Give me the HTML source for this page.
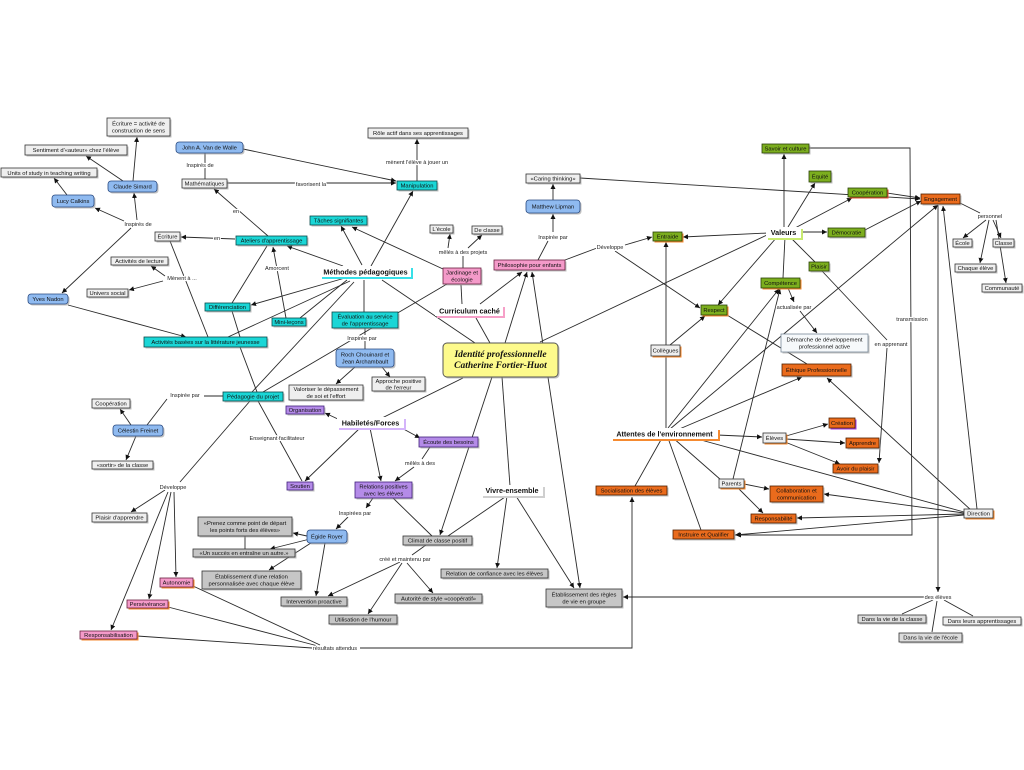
<!DOCTYPE html>
<html><head><meta charset="utf-8"><style>
html,body{margin:0;padding:0;background:#fff;width:1024px;height:770px;overflow:hidden}
svg{display:block}
text{font-family:"Liberation Sans",sans-serif;fill:#111;text-anchor:middle}
.t{font-size:5.8px}
.l{font-size:5.6px;fill:#222;stroke:#fff;stroke-width:2.2px;paint-order:stroke;stroke-linejoin:round}
.h{font-size:7.2px;font-weight:bold}
.ln line,.ln polyline{stroke:#2a2a2a;stroke-width:.9;fill:none}
.w{fill:#efefef;stroke:#333;stroke-width:.8}
.g{fill:#c6c6c6;stroke:#333;stroke-width:.8}
.b{fill:#8fbaf0;stroke:#2a4a80;stroke-width:.8}
.c{fill:#1ad6d6;stroke:#0a4a4a;stroke-width:.8}
.p{fill:#f49ac9;stroke:#6a2040;stroke-width:.8}
.u{fill:#b48be8;stroke:#40207a;stroke-width:.8}
.gr{fill:#7cae1e;stroke:#2a4008;stroke-width:.8}
.o{fill:#ea6b1c;stroke:#502000;stroke-width:.8}
.sh{fill:#999;opacity:.6}
.so{fill:#f58a30}
</style></head><body>
<svg width="1024" height="770" viewBox="0 0 1024 770" xmlns="http://www.w3.org/2000/svg">
<defs>
<marker id="a" viewBox="0 0 10 10" refX="10" refY="5" markerWidth="5" markerHeight="5" markerUnits="userSpaceOnUse" orient="auto"><path d="M0,0 L10,5 L0,10z" fill="#111"/></marker>
</defs>
<g class="ln">
<line x1="133" y1="181" x2="137" y2="137" marker-end="url(#a)"/>
<line x1="123" y1="181" x2="86" y2="156" marker-end="url(#a)"/>
<line x1="67" y1="195" x2="54" y2="178" marker-end="url(#a)"/>
<line x1="124" y1="221" x2="95" y2="208" marker-end="url(#a)"/>
<line x1="137" y1="220" x2="134" y2="193" marker-end="url(#a)"/>
<line x1="131" y1="228" x2="62" y2="293" marker-end="url(#a)"/>
<line x1="235" y1="239" x2="181" y2="237" marker-end="url(#a)"/>
<line x1="170" y1="241" x2="208" y2="337"/>
<line x1="68" y1="305" x2="186" y2="337" marker-end="url(#a)"/>
<line x1="165" y1="276" x2="151" y2="266" marker-end="url(#a)"/>
<line x1="163" y1="281" x2="129" y2="290" marker-end="url(#a)"/>
<line x1="205" y1="153" x2="205" y2="179"/>
<line x1="268" y1="236" x2="214" y2="189" marker-end="url(#a)"/>
<line x1="227" y1="183" x2="396" y2="183" marker-end="url(#a)"/>
<line x1="243" y1="149" x2="396" y2="181" marker-end="url(#a)"/>
<line x1="417" y1="181" x2="417" y2="139" marker-end="url(#a)"/>
<line x1="371" y1="266" x2="413" y2="191" marker-end="url(#a)"/>
<line x1="362" y1="265" x2="341" y2="226" marker-end="url(#a)"/>
<line x1="343" y1="266" x2="287" y2="246" marker-end="url(#a)"/>
<line x1="345" y1="278" x2="251" y2="305" marker-end="url(#a)"/>
<line x1="347" y1="280" x2="300" y2="318"/>
<line x1="350" y1="281" x2="228" y2="337"/>
<line x1="354" y1="282" x2="252" y2="392"/>
<line x1="364" y1="280" x2="364" y2="312"/>
<line x1="382" y1="280" x2="475" y2="343"/>
<line x1="286" y1="318" x2="273" y2="247" marker-end="url(#a)"/>
<line x1="232" y1="303" x2="267" y2="246"/>
<polyline points="232,311 240,337 240,347 257,392 258,401 302,481"/>
<line x1="447" y1="284" x2="263" y2="392"/>
<line x1="443" y1="269" x2="352" y2="227" marker-end="url(#a)"/>
<line x1="463" y1="268" x2="463" y2="256"/>
<line x1="448" y1="248" x2="450" y2="234" marker-end="url(#a)"/>
<line x1="468" y1="248" x2="482" y2="235" marker-end="url(#a)"/>
<line x1="462" y1="304" x2="461" y2="285"/>
<line x1="480" y1="304" x2="522" y2="272" marker-end="url(#a)"/>
<line x1="490" y1="343" x2="476" y2="318"/>
<line x1="505" y1="343" x2="527" y2="272" marker-end="url(#a)"/>
<line x1="556" y1="430" x2="532" y2="272" marker-end="url(#a)"/>
<line x1="556" y1="430" x2="580" y2="588" marker-end="url(#a)"/>
<line x1="538" y1="260" x2="548" y2="241"/>
<line x1="553" y1="232" x2="553" y2="214" marker-end="url(#a)"/>
<line x1="553" y1="200" x2="553" y2="184" marker-end="url(#a)"/>
<line x1="580" y1="178" x2="920" y2="199" marker-end="url(#a)"/>
<line x1="565" y1="260" x2="597" y2="248"/>
<line x1="625" y1="245" x2="652" y2="237" marker-end="url(#a)"/>
<line x1="615" y1="251" x2="700" y2="308" marker-end="url(#a)"/>
<line x1="540" y1="342" x2="767" y2="235"/>
<line x1="463" y1="378" x2="380" y2="419"/>
<line x1="340" y1="420" x2="325" y2="413" marker-end="url(#a)"/>
<line x1="398" y1="426" x2="420" y2="438" marker-end="url(#a)"/>
<line x1="360" y1="428" x2="305" y2="481" marker-end="url(#a)"/>
<line x1="370" y1="428" x2="381" y2="481" marker-end="url(#a)"/>
<line x1="430" y1="447" x2="422" y2="459"/>
<line x1="414" y1="467" x2="395" y2="481" marker-end="url(#a)"/>
<line x1="373" y1="498" x2="366" y2="508" marker-end="url(#a)"/>
<line x1="348" y1="517" x2="336" y2="529" marker-end="url(#a)"/>
<line x1="393" y1="498" x2="432" y2="536"/>
<line x1="492" y1="377" x2="440" y2="535" marker-end="url(#a)"/>
<line x1="505" y1="497" x2="448" y2="536"/>
<line x1="502" y1="377" x2="510" y2="486"/>
<line x1="507" y1="496" x2="497" y2="568" marker-end="url(#a)"/>
<line x1="516" y1="496" x2="574" y2="588" marker-end="url(#a)"/>
<line x1="426" y1="545" x2="412" y2="555"/>
<line x1="400" y1="562" x2="328" y2="596" marker-end="url(#a)"/>
<line x1="402" y1="563" x2="368" y2="614" marker-end="url(#a)"/>
<line x1="407" y1="563" x2="433" y2="593" marker-end="url(#a)"/>
<line x1="307" y1="536" x2="293" y2="533" marker-end="url(#a)"/>
<line x1="310" y1="539" x2="270" y2="549" marker-end="url(#a)"/>
<line x1="314" y1="541" x2="269" y2="570" marker-end="url(#a)"/>
<line x1="325" y1="543" x2="316" y2="596" marker-end="url(#a)"/>
<line x1="245" y1="536" x2="245" y2="549"/>
<line x1="365" y1="328" x2="365" y2="335"/>
<line x1="365" y1="341" x2="365" y2="349"/>
<line x1="355" y1="367" x2="336" y2="384" marker-end="url(#a)"/>
<line x1="382" y1="367" x2="390" y2="377" marker-end="url(#a)"/>
<line x1="223" y1="396" x2="204" y2="396"/>
<line x1="167" y1="399" x2="147" y2="425"/>
<line x1="131" y1="425" x2="120" y2="409" marker-end="url(#a)"/>
<line x1="136" y1="436" x2="126" y2="460" marker-end="url(#a)"/>
<line x1="250" y1="401" x2="180" y2="482"/>
<line x1="165" y1="490" x2="131" y2="512" marker-end="url(#a)"/>
<line x1="174" y1="492" x2="176" y2="577" marker-end="url(#a)"/>
<line x1="171" y1="492" x2="149" y2="599" marker-end="url(#a)"/>
<line x1="168" y1="492" x2="111" y2="630" marker-end="url(#a)"/>
<line x1="193" y1="586" x2="320" y2="645"/>
<line x1="168" y1="607" x2="318" y2="646"/>
<line x1="137" y1="636" x2="312" y2="648"/>
<polyline points="360,648 632,648 632,497" marker-end="url(#a)"/>
<line x1="768" y1="233" x2="683" y2="237" marker-end="url(#a)"/>
<line x1="784" y1="227" x2="784" y2="154" marker-end="url(#a)"/>
<line x1="788" y1="227" x2="815" y2="183" marker-end="url(#a)"/>
<line x1="795" y1="228" x2="852" y2="198" marker-end="url(#a)"/>
<line x1="801" y1="232" x2="827" y2="232" marker-end="url(#a)"/>
<line x1="790" y1="237" x2="815" y2="262"/>
<line x1="822" y1="271" x2="887" y2="340"/>
<line x1="887" y1="348" x2="879" y2="463" marker-end="url(#a)"/>
<line x1="785" y1="237" x2="783" y2="278"/>
<line x1="777" y1="237" x2="718" y2="305" marker-end="url(#a)"/>
<line x1="788" y1="288" x2="794" y2="302" marker-end="url(#a)"/>
<line x1="800" y1="311" x2="817" y2="333" marker-end="url(#a)"/>
<line x1="670" y1="345" x2="705" y2="316" marker-end="url(#a)"/>
<line x1="666" y1="345" x2="666" y2="242" marker-end="url(#a)"/>
<line x1="666" y1="430" x2="666" y2="356"/>
<line x1="668" y1="428" x2="779" y2="289" marker-end="url(#a)"/>
<line x1="670" y1="429" x2="938" y2="205" marker-end="url(#a)"/>
<line x1="677" y1="430" x2="802" y2="377" marker-end="url(#a)"/>
<line x1="733" y1="479" x2="780" y2="289" marker-end="url(#a)"/>
<line x1="727" y1="315" x2="807" y2="364"/>
<line x1="972" y1="511" x2="827" y2="378" marker-end="url(#a)"/>
<polyline points="809,148 910,148 912,535 736,535" marker-end="url(#a)"/>
<line x1="938" y1="205" x2="938" y2="592" marker-end="url(#a)"/>
<line x1="977" y1="509" x2="943" y2="206" marker-end="url(#a)"/>
<line x1="865" y1="230" x2="921" y2="201" marker-end="url(#a)"/>
<line x1="887" y1="193" x2="920" y2="198" marker-end="url(#a)"/>
<line x1="960" y1="203" x2="980" y2="213"/>
<line x1="986" y1="220" x2="963" y2="238" marker-end="url(#a)"/>
<line x1="993" y1="220" x2="1001" y2="238" marker-end="url(#a)"/>
<line x1="989" y1="220" x2="980" y2="263" marker-end="url(#a)"/>
<line x1="996" y1="220" x2="1006" y2="283" marker-end="url(#a)"/>
<line x1="924" y1="597" x2="623" y2="597" marker-end="url(#a)"/>
<line x1="933" y1="600" x2="902" y2="614"/>
<line x1="937" y1="601" x2="932" y2="632"/>
<line x1="944" y1="600" x2="973" y2="616"/>
<line x1="635" y1="486" x2="662" y2="438"/>
<line x1="668" y1="438" x2="701" y2="530"/>
<line x1="672" y1="437" x2="721" y2="480"/>
<line x1="690" y1="437" x2="964" y2="512"/>
<line x1="717" y1="435" x2="762" y2="437" marker-end="url(#a)"/>
<line x1="786" y1="436" x2="828" y2="424" marker-end="url(#a)"/>
<line x1="786" y1="439" x2="845" y2="443" marker-end="url(#a)"/>
<line x1="785" y1="442" x2="840" y2="464" marker-end="url(#a)"/>
<line x1="744" y1="484" x2="769" y2="489" marker-end="url(#a)"/>
<line x1="738" y1="488" x2="763" y2="513" marker-end="url(#a)"/>
<line x1="964" y1="513" x2="824" y2="494" marker-end="url(#a)"/>
<line x1="964" y1="514" x2="797" y2="518" marker-end="url(#a)"/>
<line x1="964" y1="515" x2="735" y2="535" marker-end="url(#a)"/>
</g>

<!-- heading labels -->
<rect x="322" y="268" width="91" height="11" fill="#38e0e8"/><rect x="320" y="266" width="91" height="11" fill="#fff"/><text class="h" x="365.5" y="274.5">Méthodes pédagogiques</text>
<rect x="437" y="307" width="68" height="11" fill="#f6a0c8"/><rect x="435" y="305" width="68" height="11" fill="#fff"/><text class="h" x="469.5" y="313.5">Curriculum caché</text>
<rect x="339" y="419" width="67" height="11" fill="#d4b4fa"/><rect x="337" y="417" width="67" height="11" fill="#fff"/><text class="h" x="370.5" y="425.5">Habiletés/Forces</text>
<rect x="483" y="487" width="62" height="11" fill="#cfcfcf"/><rect x="481" y="485" width="62" height="11" fill="#fff"/><text class="h" x="512" y="493">Vivre-ensemble</text>
<rect x="768" y="229" width="35" height="11" fill="#c8ea70"/><rect x="766" y="227" width="35" height="11" fill="#fff"/><text class="h" x="783.5" y="235">Valeurs</text>
<rect x="613" y="430" width="107" height="11" fill="#f58a30"/><rect x="611" y="428" width="107" height="11" fill="#fff"/><text class="h" x="664.5" y="436.5">Attentes de l'environnement</text>

<!-- central -->
<rect x="444.5" y="344.5" width="115" height="34" rx="4" class="sh"/>
<rect x="443" y="343" width="115" height="34" rx="4" fill="#fdfa8c" stroke="#555" stroke-width="1"/>
<text x="500.5" y="357" style="font-family:'Liberation Serif',serif;font-style:italic;font-weight:bold;font-size:9.5px">Identité professionnelle</text>
<text x="500.5" y="368" style="font-family:'Liberation Serif',serif;font-style:italic;font-weight:bold;font-size:9.5px">Catherine Fortier-Huot</text>

<!-- boxes -->
<g>
<rect x="108.5" y="119.5" width="63" height="18" class="sh"/><rect x="107" y="118" width="63" height="18" class="w"/><text class="t" x="138.5" y="125.5">Écriture = activité de</text><text class="t" x="138.5" y="132.5">construction de sens</text>
<rect x="26.5" y="146.5" width="102" height="10" class="sh"/><rect x="25" y="145" width="102" height="10" class="w"/><text class="t" x="76" y="152">Sentiment d'«auteur» chez l'élève</text>
<rect x="2.5" y="169.5" width="96" height="9" class="sh"/><rect x="1" y="168" width="96" height="9" class="w"/><text class="t" x="49" y="174.8">Units of study in teaching writing</text>
<rect x="109.5" y="182.5" width="49" height="11" rx="3" class="sh"/><rect x="108" y="181" width="49" height="11" rx="3" class="b"/><text class="t" x="132.5" y="188.6">Claude Simard</text>
<rect x="53.5" y="196.5" width="42" height="12" rx="3" class="sh"/><rect x="52" y="195" width="42" height="12" rx="3" class="b"/><text class="t" x="73" y="203">Lucy Calkins</text>
<rect x="177.5" y="143.5" width="67" height="11" rx="3" class="sh"/><rect x="176" y="142" width="67" height="11" rx="3" class="b"/><text class="t" x="209.5" y="149.6">John A. Van de Walle</text>
<rect x="183.5" y="180.5" width="45" height="9" class="sh"/><rect x="182" y="179" width="45" height="9" class="w"/><text class="t" x="204.5" y="185.6">Mathématiques</text>
<rect x="156.5" y="233.5" width="25" height="9" class="sh"/><rect x="155" y="232" width="25" height="9" class="w"/><text class="t" x="167.5" y="238.6">Écriture</text>
<rect x="237.5" y="237.5" width="71" height="9" class="sh"/><rect x="236" y="236" width="71" height="9" class="c"/><text class="t" x="271.5" y="242.6">Ateliers d'apprentissage</text>
<rect x="112.5" y="258.5" width="57" height="8" class="sh"/><rect x="111" y="257" width="57" height="8" class="w"/><text class="t" x="139.5" y="263">Activités de lecture</text>
<rect x="88.5" y="290.5" width="41" height="8" class="sh"/><rect x="87" y="289" width="41" height="8" class="w"/><text class="t" x="107.5" y="295">Univers social</text>
<rect x="29.5" y="295.5" width="40" height="10" rx="3" class="sh"/><rect x="28" y="294" width="40" height="10" rx="3" class="b"/><text class="t" x="48" y="301">Yves Nadon</text>
<rect x="206.5" y="304.5" width="45" height="8" class="sh"/><rect x="205" y="303" width="45" height="8" class="c"/><text class="t" x="227.5" y="309">Différenciation</text>
<rect x="273.5" y="319.5" width="34" height="8" class="sh"/><rect x="272" y="318" width="34" height="8" class="c"/><text class="t" x="289" y="324">Mini-leçons</text>
<rect x="311.5" y="217.5" width="57" height="9" class="sh"/><rect x="310" y="216" width="57" height="9" class="c"/><text class="t" x="338.5" y="222.6">Tâches signifiantes</text>
<rect x="398.5" y="182.5" width="40" height="9" class="sh"/><rect x="397" y="181" width="40" height="9" class="c"/><text class="t" x="417" y="187.6">Manipulation</text>
<rect x="369.5" y="129.5" width="100" height="10" class="sh"/><rect x="368" y="128" width="100" height="10" class="w"/><text class="t" x="418" y="135">Rôle actif dans ses apprentissages</text>
<rect x="145.5" y="338.5" width="123" height="10" class="sh"/><rect x="144" y="337" width="123" height="10" class="c"/><text class="t" x="205.5" y="344">Activités basées sur la littérature jeunesse</text>
<rect x="333.5" y="313.5" width="66" height="16" class="sh"/><rect x="332" y="312" width="66" height="16" class="c"/><text class="t" x="365" y="318.5">Évaluation au service</text><text class="t" x="365" y="325.5">de l'apprentissage</text>
<rect x="224.5" y="393.5" width="60" height="9" class="sh"/><rect x="223" y="392" width="60" height="9" class="c"/><text class="t" x="253" y="398.6">Pédagogie du projet</text>
<rect x="93.5" y="400.5" width="38" height="9" class="sh"/><rect x="92" y="399" width="38" height="9" class="w"/><text class="t" x="111" y="405.6">Coopération</text>
<rect x="114.5" y="426.5" width="50" height="11" rx="3" class="sh"/><rect x="113" y="425" width="50" height="11" rx="3" class="b"/><text class="t" x="138" y="432.6">Célestin Freinet</text>
<rect x="93.5" y="462.5" width="61" height="8" class="sh"/><rect x="92" y="461" width="61" height="8" class="w"/><text class="t" x="122.5" y="467">«sortir» de la classe</text>
<rect x="93.5" y="514.5" width="55" height="9" class="sh"/><rect x="92" y="513" width="55" height="9" class="w"/><text class="t" x="119.5" y="519.6">Plaisir d'apprendre</text>
<rect x="288.5" y="483.5" width="26" height="8" class="sh"/><rect x="287" y="482" width="26" height="8" class="u"/><text class="t" x="300" y="488">Soutien</text>
<rect x="161.5" y="579.5" width="33" height="9" class="so"/><rect x="160" y="578" width="33" height="9" class="p"/><text class="t" x="176.5" y="584.6">Autonomie</text>
<rect x="128.5" y="601.5" width="41" height="8" class="so"/><rect x="127" y="600" width="41" height="8" class="p"/><text class="t" x="147.5" y="606">Persévérance</text>
<rect x="81.5" y="632.5" width="57" height="8" class="so"/><rect x="80" y="631" width="57" height="8" class="p"/><text class="t" x="108.5" y="637">Responsabilisation</text>
<rect x="199.5" y="518.5" width="94" height="19" class="sh"/><rect x="198" y="517" width="94" height="19" class="g"/><text class="t" x="245" y="525">«Prenez comme point de départ</text><text class="t" x="245" y="532">les points forts des élèves»</text>
<rect x="194.5" y="550.5" width="102" height="8" class="sh"/><rect x="193" y="549" width="102" height="8" class="g"/><text class="t" x="244" y="555">«Un succès en entraîne un autre.»</text>
<rect x="203.5" y="572.5" width="99" height="18" class="sh"/><rect x="202" y="571" width="99" height="18" class="g"/><text class="t" x="251.5" y="578.5">Établissement d'une relation</text><text class="t" x="251.5" y="585.5">personnalisée avec chaque élève</text>
<rect x="308.5" y="531.5" width="40" height="13" rx="3" class="sh"/><rect x="307" y="530" width="40" height="13" rx="3" class="b"/><text class="t" x="327" y="538.6">Égide Royer</text>
<rect x="282.5" y="598.5" width="66" height="9" class="sh"/><rect x="281" y="597" width="66" height="9" class="g"/><text class="t" x="314" y="603.6">Intervention proactive</text>
<rect x="330.5" y="616.5" width="68" height="9" class="sh"/><rect x="329" y="615" width="68" height="9" class="g"/><text class="t" x="363" y="621.6">Utilisation de l'humour</text>
<rect x="396.5" y="595.5" width="87" height="9" class="sh"/><rect x="395" y="594" width="87" height="9" class="g"/><text class="t" x="438.5" y="600.6">Autorité de style «coopératif»</text>
<rect x="404.5" y="537.5" width="69" height="9" class="sh"/><rect x="403" y="536" width="69" height="9" class="g"/><text class="t" x="437.5" y="542.6">Climat de classe positif</text>
<rect x="442.5" y="570.5" width="107" height="9" class="sh"/><rect x="441" y="569" width="107" height="9" class="g"/><text class="t" x="494.5" y="575.6">Relation de confiance avec les élèves</text>
<rect x="547.5" y="590.5" width="76" height="18" class="sh"/><rect x="546" y="589" width="76" height="18" class="g"/><text class="t" x="584" y="596.5">Établissement des règles</text><text class="t" x="584" y="603.5">de vie en groupe</text>
<rect x="356.5" y="483.5" width="57" height="16" class="sh"/><rect x="355" y="482" width="57" height="16" class="u"/><text class="t" x="383.5" y="488.5">Relations positives</text><text class="t" x="383.5" y="495.5">avec les élèves</text>
<rect x="420.5" y="438.5" width="59" height="10" class="sh"/><rect x="419" y="437" width="59" height="10" class="u"/><text class="t" x="448.5" y="444">Écoute des besoins</text>
<rect x="287.5" y="407.5" width="38" height="8" class="sh"/><rect x="286" y="406" width="38" height="8" class="u"/><text class="t" x="305" y="412">Organisation</text>
<rect x="337.5" y="350.5" width="58" height="18" rx="3" class="sh"/><rect x="336" y="349" width="58" height="18" rx="3" class="b"/><text class="t" x="365" y="356.5">Roch Chouinard et</text><text class="t" x="365" y="363.5">Jean Archambault</text>
<rect x="290.5" y="386.5" width="74" height="15" class="sh"/><rect x="289" y="385" width="74" height="15" class="w"/><text class="t" x="326" y="391">Valoriser le dépassement</text><text class="t" x="326" y="398">de soi et l'effort</text>
<rect x="373.5" y="378.5" width="53" height="14" class="sh"/><rect x="372" y="377" width="53" height="14" class="w"/><text class="t" x="398.5" y="383">Approche positive</text><text class="t" x="398.5" y="389.5">de l'erreur</text>
<rect x="431.5" y="226.5" width="23" height="8" class="sh"/><rect x="430" y="225" width="23" height="8" class="w"/><text class="t" x="441.5" y="231">L'école</text>
<rect x="473.5" y="227.5" width="30" height="8" class="sh"/><rect x="472" y="226" width="30" height="8" class="w"/><text class="t" x="487" y="232">De classe</text>
<rect x="444.5" y="269.5" width="38" height="16" class="sh"/><rect x="443" y="268" width="38" height="16" class="p"/><text class="t" x="462" y="274.5">Jardinage et</text><text class="t" x="462" y="281.5">écologie</text>
<rect x="495.5" y="261.5" width="71" height="10" class="sh"/><rect x="494" y="260" width="71" height="10" class="p"/><text class="t" x="529.5" y="267">Philosophie pour enfants</text>
<rect x="527.5" y="175.5" width="54" height="9" class="sh"/><rect x="526" y="174" width="54" height="9" class="w"/><text class="t" x="553" y="180.6">«Caring thinking»</text>
<rect x="527.5" y="201.5" width="54" height="13" rx="3" class="sh"/><rect x="526" y="200" width="54" height="13" rx="3" class="b"/><text class="t" x="553" y="208.6">Matthew Lipman</text>

<rect x="763.5" y="145.5" width="47" height="9" class="sh"/><rect x="762" y="144" width="47" height="9" class="gr"/><text class="t" x="785.5" y="150.6">Savoir et culture</text>
<rect x="810.5" y="172.5" width="22" height="11" class="sh"/><rect x="809" y="171" width="22" height="11" class="gr"/><text class="t" x="820" y="178.6">Équité</text>
<rect x="849.5" y="189.5" width="39" height="9" fill="#e05030"/><rect x="848" y="188" width="39" height="9" class="gr"/><text class="t" x="867.5" y="194.6">Coopération</text>
<rect x="922.5" y="195.5" width="39" height="10" class="sh"/><rect x="921" y="194" width="39" height="10" class="o"/><text class="t" x="940.5" y="201">Engagement</text>
<rect x="954.5" y="240.5" width="19" height="8" class="sh"/><rect x="953" y="239" width="19" height="8" class="w"/><text class="t" x="962.5" y="245">École</text>
<rect x="994.5" y="240.5" width="21" height="8" class="sh"/><rect x="993" y="239" width="21" height="8" class="w"/><text class="t" x="1003.5" y="245">Classe</text>
<rect x="956.5" y="265.5" width="41" height="8" class="sh"/><rect x="955" y="264" width="41" height="8" class="w"/><text class="t" x="975.5" y="270">Chaque élève</text>
<rect x="983.5" y="285.5" width="40" height="8" class="sh"/><rect x="982" y="284" width="40" height="8" class="w"/><text class="t" x="1002" y="290">Communauté</text>
<rect x="829.5" y="229.5" width="37" height="9" class="sh"/><rect x="828" y="228" width="37" height="9" class="gr"/><text class="t" x="846.5" y="234.6">Démocratie</text>
<rect x="654.5" y="233.5" width="29" height="9" class="so"/><rect x="653" y="232" width="29" height="9" class="gr"/><text class="t" x="667.5" y="238.6">Entraide</text>
<rect x="810.5" y="263.5" width="20" height="9" class="sh"/><rect x="809" y="262" width="20" height="9" class="gr"/><text class="t" x="819" y="268.6">Plaisir</text>
<rect x="762.5" y="279.5" width="39" height="10" class="so"/><rect x="761" y="278" width="39" height="10" class="gr"/><text class="t" x="780.5" y="285">Compétence</text>
<rect x="702.5" y="306.5" width="26" height="10" class="so"/><rect x="701" y="305" width="26" height="10" class="gr"/><text class="t" x="714" y="312">Respect</text>
<rect x="782.5" y="335.5" width="87" height="18" class="sh"/><rect x="781" y="334" width="87" height="18" fill="#f6f9fb" stroke="#7a8a99" stroke-width=".8"/><text class="t" x="824.5" y="341.5">Démarche de développement</text><text class="t" x="824.5" y="348.5">professionnel active</text>
<rect x="652.5" y="346.5" width="29" height="11" class="so"/><rect x="651" y="345" width="29" height="11" class="w"/><text class="t" x="665.5" y="352.6">Collègues</text>
<rect x="783.5" y="365.5" width="69" height="12" class="sh"/><rect x="782" y="364" width="69" height="12" class="o"/><text class="t" x="816.5" y="372">Éthique Professionnelle</text>
<rect x="764.5" y="434.5" width="23" height="10" class="so"/><rect x="763" y="433" width="23" height="10" class="w"/><text class="t" x="774.5" y="440">Élèves</text>
<rect x="830.5" y="419.5" width="26" height="10" fill="#a040e0"/><rect x="829" y="418" width="26" height="10" class="o"/><text class="t" x="842" y="425">Création</text>
<rect x="847.5" y="439.5" width="33" height="10" class="sh"/><rect x="846" y="438" width="33" height="10" class="o"/><text class="t" x="862.5" y="445">Apprendre</text>
<rect x="834.5" y="465.5" width="45" height="9" class="sh"/><rect x="833" y="464" width="45" height="9" class="o"/><text class="t" x="855.5" y="470.6">Avoir du plaisir</text>
<rect x="597.5" y="487.5" width="71" height="9" class="sh"/><rect x="596" y="486" width="71" height="9" class="o"/><text class="t" x="631.5" y="492.6">Socialisation des élèves</text>
<rect x="720.5" y="480.5" width="25" height="9" class="so"/><rect x="719" y="479" width="25" height="9" class="w"/><text class="t" x="731.5" y="485.6">Parents</text>
<rect x="771.5" y="487.5" width="53" height="16" class="sh"/><rect x="770" y="486" width="53" height="16" class="o"/><text class="t" x="796.5" y="492.5">Collaboration et</text><text class="t" x="796.5" y="499.5">communication</text>
<rect x="752.5" y="515.5" width="45" height="9" class="sh"/><rect x="751" y="514" width="45" height="9" class="o"/><text class="t" x="773.5" y="520.6">Responsabilité</text>
<rect x="674.5" y="531.5" width="61" height="9" class="sh"/><rect x="673" y="530" width="61" height="9" class="o"/><text class="t" x="703.5" y="536.6">Instruire et Qualifier</text>
<rect x="965.5" y="510.5" width="29" height="9" class="so"/><rect x="964" y="509" width="29" height="9" class="w"/><text class="t" x="978.5" y="515.6">Direction</text>
<rect x="859.5" y="616.5" width="68" height="8" class="sh"/><rect x="858" y="615" width="68" height="8" fill="#dcdcdc" stroke="#333" stroke-width=".8"/><text class="t" x="892" y="621">Dans la vie de la classe</text>
<rect x="944.5" y="618.5" width="78" height="8" class="sh"/><rect x="943" y="617" width="78" height="8" class="w"/><text class="t" x="982" y="623">Dans leurs apprentissages</text>
<rect x="900.5" y="634.5" width="63" height="9" class="sh"/><rect x="899" y="633" width="63" height="9" fill="#dcdcdc" stroke="#333" stroke-width=".8"/><text class="t" x="930.5" y="639.6">Dans la vie de l'école</text>
</g>

<!-- link labels -->
<g>
<text class="l" x="138" y="226">Inspirés de</text>
<text class="l" x="217" y="240">en</text>
<text class="l" x="200" y="167">Inspirés de</text>
<text class="l" x="311" y="186">favorisent la</text>
<text class="l" x="236" y="213">en</text>
<text class="l" x="182" y="280">Mènent à ...</text>
<text class="l" x="277" y="270">Amorcent</text>
<text class="l" x="417" y="164">mènent l'élève à jouer un</text>
<text class="l" x="463" y="254">mêlés à des projets</text>
<text class="l" x="553" y="239">Inspirée par</text>
<text class="l" x="610" y="249">Développe</text>
<text class="l" x="362" y="340">Inspirée par</text>
<text class="l" x="185" y="397">Inspirée par</text>
<text class="l" x="277" y="440">Enseignant facilitateur</text>
<text class="l" x="173" y="489">Développe</text>
<text class="l" x="420" y="465">mêlés à des</text>
<text class="l" x="355" y="515">Inspirées par</text>
<text class="l" x="405" y="561">créé et maintenu par</text>
<text class="l" x="335" y="650">résultats attendus</text>
<text class="l" x="990" y="218">personnel</text>
<text class="l" x="794" y="309">actualisée par</text>
<text class="l" x="912" y="321">transmission</text>
<text class="l" x="891" y="346">en apprenant</text>
<text class="l" x="938" y="599">des élèves</text>
</g>
</svg>
</body></html>
